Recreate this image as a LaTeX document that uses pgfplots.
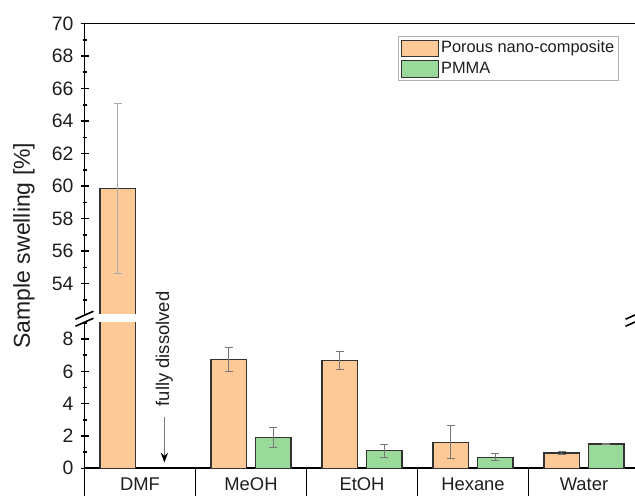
\documentclass[border=0pt]{standalone}
\usepackage{pgfplots}
\usepackage{pgfplotstable}
\pgfplotsset{compat=1.18}
\usetikzlibrary{arrows.meta}
\usepackage{fontspec}
\setmainfont{Liberation Sans}
\definecolor{orng}{HTML}{FDC997}
\definecolor{grn}{HTML}{99DA9B}
\definecolor{edge}{HTML}{333333}
\definecolor{txt}{HTML}{1E1E1E}
\definecolor{errc}{HTML}{777777}
\definecolor{errl}{HTML}{AAAAAA}

\pgfplotstableread{
x  por    porerr  pm    pmerr
0  59.85  5.25    nan   0
1  6.72   0.75    1.92  0.63
2  6.68   0.58    1.08  0.40
3  1.62   1.02    0.68  0.22
4  0.95   0.12    1.50  0.05
}\datatable

\pgfplotsset{
  base/.style={
    scale only axis, width=277.5pt,
    xmin=-0.5, xmax=4.5,
    ybar, bar width=0.32,
    tick align=outside,
    major tick length=4pt, minor tick length=2pt,
    tick style={line width=0.8pt, black},
    major x tick style={draw=none},
    /pgf/number format/assume math mode=true,
    yticklabel style={font=\fontsize{9.7}{11}\selectfont, text=txt},
    xticklabel style={font=\fontsize{9.2}{11}\selectfont, text=txt},
    legend image code/.code={\draw[#1, line width=0.6pt] (0pt,-4.15pt) rectangle (18.5pt,4.15pt);},
  },
  noarrows/.style={
    axis line style={line width=0.9pt, draw=black, -},
    x axis line style={-},
    y axis line style={-},
    every outer x axis line/.append style={-},
    every outer y axis line/.append style={-},
    every inner x axis line/.append style={-},
    every inner y axis line/.append style={-},
  },
  porbar/.style={fill=orng, draw=edge, line width=0.6pt, bar shift=-0.2},
  pmbar/.style={fill=grn, draw=edge, line width=0.6pt, bar shift=0.2},
}

\begin{document}
\begin{tikzpicture}
\useasboundingbox (-42.25pt,-13.35pt) rectangle (275.25pt,234.15pt);
\clip (-42.25pt,-13.35pt) rectangle (275.25pt,234.15pt);

% lower axis
\begin{axis}[base,
  name=lower, at={(0pt,0pt)}, anchor=south west,
  height=73.1pt, ymin=0, ymax=9.05,
  axis x line=bottom, axis y line=left, noarrows,
  ytick={0,2,4,6,8}, minor ytick={1,3,5,7,9},
  xtick={0,1,2,3,4},
  xticklabels={DMF,MeOH,EtOH,Hexane,Water},
  xticklabel style={yshift=0.8pt},
  clip mode=individual,
]
\addplot[porbar, error bars/.cd, y dir=both, y explicit,
  error bar style={line width=0.5pt, errc},
  error mark options={rotate=90, mark size=2pt, line width=0.5pt, errc}]
  table[x=x, y=por, y error=porerr] {\datatable};
\addplot[pmbar, error bars/.cd, y dir=both, y explicit,
  error bar style={line width=0.5pt, errc},
  error mark options={rotate=90, mark size=2pt, line width=0.5pt, errc}]
  table[x=x, y=pm, y error=pmerr] {\datatable};
\foreach \s in {-0.5,0.5,1.5,2.5,3.5,4.5} {
  \edef\tmp{\noexpand\draw[line width=0.9pt, black] (axis cs:\s,0) -- ++(0pt,-16pt);}\tmp
}
\end{axis}

% upper axis
\begin{axis}[base,
  name=upper, at={(0pt,76.5pt)}, anchor=south west,
  height=145.9pt, ymin=52.05, ymax=70,
  axis x line=top, axis y line=left, noarrows,
  xtick=\empty,
  ytick={54,56,...,70}, minor ytick={53,55,...,69},
  legend style={draw=gray!60, line width=0.5pt, inner xsep=1.2pt, inner ysep=0.8pt,
    nodes={inner sep=0.9pt, text height=6.5pt, text depth=2pt, font=\fontsize{8.2}{9}\selectfont, text=txt},
    row sep=0pt, column sep=0pt,
    at={(1,1)}, anchor=north east, xshift=-10.25pt, yshift=-6.25pt},
  legend cell align=left,
]
\addlegendimage{fill=orng, draw=edge}
\addlegendentry{Porous nano-composite}
\addlegendimage{fill=grn, draw=edge}
\addlegendentry{PMMA}
\addplot[porbar, forget plot, error bars/.cd, y dir=both, y explicit,
  error bar style={line width=0.5pt, errl},
  error mark options={rotate=90, mark size=2pt, line width=0.5pt, errl}]
  coordinates {(0,59.85) +- (0,5.25)};
\end{axis}

% white gap of the axis break (across the DMF bar)
\fill[white] (0.5pt,73.0pt) rectangle (28pt,76.95pt);

% annotation
\begin{axis}[base, at={(0pt,0pt)}, anchor=south west,
  height=73.1pt, ymin=0, ymax=9.05, hide axis, clip=false]
\node[rotate=90, font=\fontsize{9.2}{11}\selectfont, text=txt] at (axis cs:0.22,7.39) {fully dissolved};
\draw[line width=0.5pt, errc, -{Stealth[length=5pt, width=3.6pt, color=black]}] (axis cs:0.22,3.2) -- (axis cs:0.22,0.35);
\end{axis}

% y label
\node[rotate=90, font=\fontsize{11.5}{13}\selectfont, text=txt] at (-30.25pt,111.4pt) {Sample swelling [\%]};

% axis break marks
\draw[line width=0.8pt, black] (-4.5pt,74.55pt) -- ++(9pt,4pt);
\draw[line width=0.8pt, black] (-4.5pt,71.05pt) -- ++(9pt,4pt);
\draw[line width=0.8pt, black] (270.5pt,74.55pt) -- ++(9pt,4pt);
\draw[line width=0.8pt, black] (270.5pt,71.05pt) -- ++(9pt,4pt);
\end{tikzpicture}
\end{document}
